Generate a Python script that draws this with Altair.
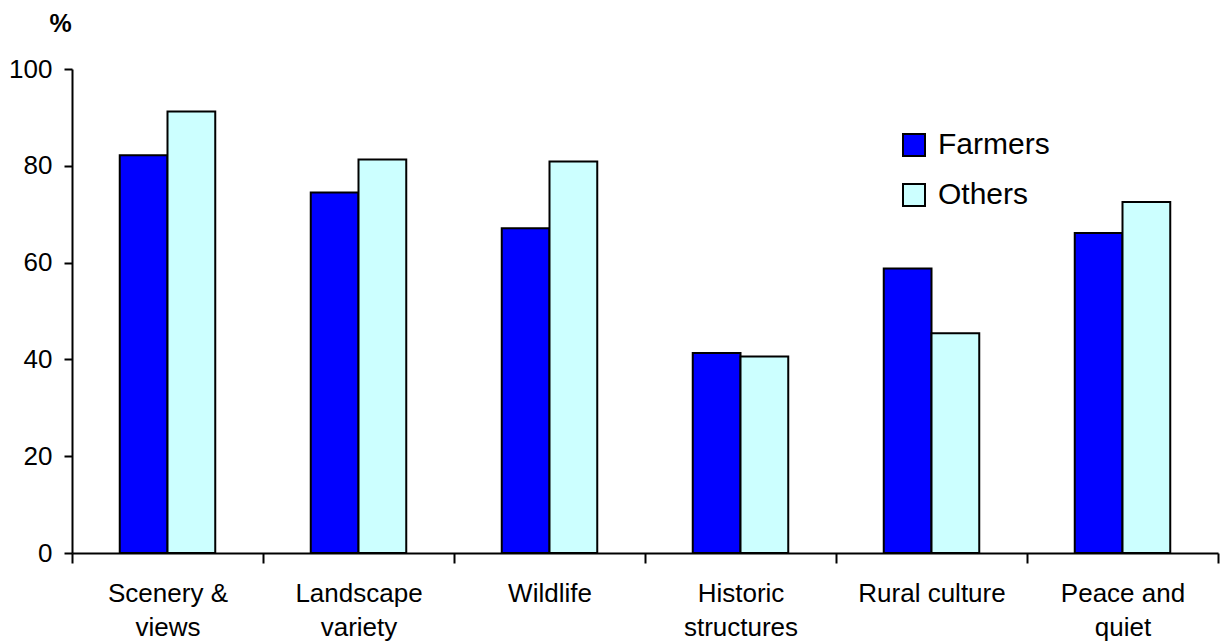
import altair as alt
import pandas as pd

categories = ["Scenery & views", "Landscape variety", "Wildlife",
              "Historic structures", "Rural culture", "Peace and quiet"]
label_lines = [["Scenery &", "views"], ["Landscape", "variety"], ["Wildlife"],
               ["Historic", "structures"], ["Rural culture"], ["Peace and", "quiet"]]
groups = ["Farmers", "Others"]
farmers = [82.2, 74.5, 67.1, 41.3, 58.8, 66.1]
others = [91.2, 81.3, 80.9, 40.6, 45.4, 72.5]
colors = ["#0000FF", "#CCFFFF"]

rows = []
for c, f, o in zip(categories, farmers, others):
    rows.append({"category": c, "group": "Farmers", "value": f})
    rows.append({"category": c, "group": "Others", "value": o})
df = pd.DataFrame(rows)

expr = ""
for c, lines in zip(categories, label_lines):
    arr = "[" + ",".join("'" + l + "'" for l in lines) + "]"
    expr += f"datum.value == '{c}' ? {arr} : "
expr += "datum.label"

FONT = "Liberation Sans"

chart = alt.Chart(df).mark_bar(stroke="black", strokeWidth=2).encode(
    x=alt.X("category:N", sort=categories,
            scale=alt.Scale(paddingInner=0, paddingOuter=0),
            axis=alt.Axis(title=None, labelAngle=0, labelExpr=expr,
                          tickBand="extent", tickSize=10, tickWidth=2,
                          tickColor="black", domainColor="black", domainWidth=2,
                          labelFontSize=26, labelFont=FONT, labelColor="black",
                          labelPadding=17, labelLineHeight=34, labelLimit=300)),
    xOffset=alt.XOffset("group:N", sort=groups,
                        scale=alt.Scale(paddingInner=0, paddingOuter=1)),
    y=alt.Y("value:Q", scale=alt.Scale(domain=[0, 100], nice=False),
            axis=alt.Axis(values=[0, 20, 40, 60, 80, 100], grid=False,
                          title="%", titleAngle=0, titleFont=FONT,
                          titleFontSize=25, titleFontWeight="bold",
                          titleX=-12, titleY=-46, titleAlign="center",
                          titleBaseline="middle", titleColor="black",
                          tickSize=8, tickWidth=2, tickColor="black",
                          domainColor="black", domainWidth=2,
                          labelFontSize=26, labelFont=FONT, labelColor="black",
                          labelPadding=12)),
    fill=alt.Fill("group:N", sort=groups,
                  scale=alt.Scale(domain=groups, range=colors),
                  legend=alt.Legend(title=None, orient="none", legendX=827,
                                    legendY=61, symbolType="square",
                                    symbolSize=484, symbolStrokeColor="black",
                                    symbolStrokeWidth=2, labelFontSize=30,
                                    labelFont=FONT, labelColor="black",
                                    labelOffset=9, rowPadding=20, padding=0)),
).properties(
    width=1146, height=484,
    autosize=alt.AutoSizeParams(type="none"),
    padding={"left": 72, "top": 69, "right": 2, "bottom": 88},
).configure(background="white").configure_view(stroke=None)

chart.save("out.html", embed_options={"renderer": "svg", "actions": False})
